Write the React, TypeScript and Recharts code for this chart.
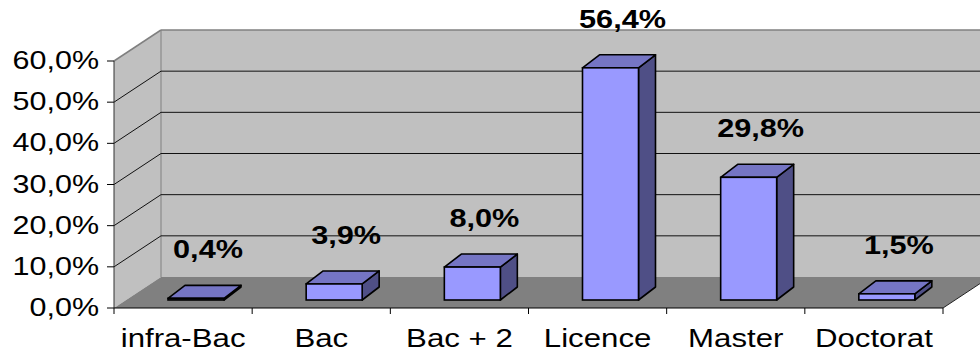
import React from 'react';
import { BarChart, Bar, XAxis, YAxis, CartesianGrid, LabelList } from 'recharts';

const categories = ['infra-Bac', 'Bac', 'Bac + 2', 'Licence', 'Master', 'Doctorat'];
const shares = [0.4, 3.9, 8.0, 56.4, 29.8, 1.5];
const yTicks = [0, 10, 20, 30, 40, 50, 60];

const data = categories.map((name, i) => ({ name, value: shares[i] }));

const W = 980;
const H = 353;
const PL = 114;
const PR = 943;
const PT = 61;
const PB = 308;
const DEPTH_X = 47;
const DEPTH_Y = 31;
const BAR_DX = 17;
const BAR_DY = 13;
const OFF_X = 13;
const OFF_Y = 8;
const BW = (PR - PL) / categories.length;
const FONT = '"Liberation Sans", Arial, sans-serif';

const fmt = (v: number) => v.toFixed(1).replace('.', ',') + '%';

const Bar3D = (props: any) => {
  const { x, y, width, height } = props;
  const fx = Number(x) + OFF_X;
  const fy = Number(y) - OFF_Y;
  const w = Number(width);
  const h = Number(height);
  const sw = 1.6;
  return (
    <g>
      <polygon
        points={`${fx + w},${fy} ${fx + w + BAR_DX},${fy - BAR_DY} ${fx + w + BAR_DX},${fy + h - BAR_DY} ${fx + w},${fy + h}`}
        fill="#4f4f86"
        stroke="#000"
        strokeWidth={sw}
        strokeLinejoin="round"
      />
      <polygon
        points={`${fx},${fy} ${fx + BAR_DX},${fy - BAR_DY} ${fx + w + BAR_DX},${fy - BAR_DY} ${fx + w},${fy}`}
        fill="#7575c4"
        stroke="#000"
        strokeWidth={sw}
        strokeLinejoin="round"
      />
      <rect x={fx} y={fy} width={w} height={h} fill="#9999ff" stroke="#000" strokeWidth={sw} />
    </g>
  );
};

const YTick = (props: any) => {
  const { y, payload } = props;
  const yy = Number(y);
  return (
    <g>
      <line x1={PL - 7} x2={PL} y1={yy} y2={yy} stroke="#000" strokeWidth={1} />
      <text
        transform={`translate(${PL - 15},${yy + 8}) scale(1.22,1)`}
        textAnchor="end"
        fontSize={25}
        fontFamily={FONT}
        fill="#000"
      >
        {fmt(Number(payload.value))}
      </text>
    </g>
  );
};

const XTick = (props: any) => {
  const { x, payload, index } = props;
  const xx = Number(x);
  const last = index === categories.length - 1;
  return (
    <g>
      <line x1={xx - BW / 2} x2={xx - BW / 2} y1={PB} y2={PB + 6} stroke="#000" strokeWidth={1} />
      {last && <line x1={xx + BW / 2} x2={xx + BW / 2} y1={PB} y2={PB + 6} stroke="#000" strokeWidth={1} />}
      <text
        transform={`translate(${xx},${PB + 39}) scale(1.2,1)`}
        textAnchor="middle"
        fontSize={26}
        fontFamily={FONT}
        fill="#000"
      >
        {payload.value}
      </text>
    </g>
  );
};

const GridLine = (props: any) => {
  const { x1, y1 } = props;
  const yy = Number(y1);
  const xx = Number(x1);
  if (Math.abs(yy - PB) < 1 || Math.abs(yy - PT) < 1) return <g key={`g-${yy}`} />;
  return (
    <g key={`g-${yy}`}>
      <line x1={xx} y1={yy} x2={xx + DEPTH_X} y2={yy - DEPTH_Y} stroke="#111" strokeWidth={1} />
      <line x1={xx + DEPTH_X} y1={yy - DEPTH_Y} x2={W} y2={yy - DEPTH_Y} stroke="#111" strokeWidth={1} />
    </g>
  );
};

const ValueLabel = (props: any) => {
  const { x, y, value } = props;
  const cx = Number(x) + OFF_X + 40;
  const by = Number(y) - OFF_Y - 40;
  return (
    <text
      transform={`translate(${cx},${by}) scale(1.18,1)`}
      textAnchor="middle"
      fontSize={26}
      fontWeight="bold"
      fontFamily={FONT}
      fill="#000"
    >
      {fmt(Number(value))}
    </text>
  );
};

const Frame = () => (
  <svg width={W} height={H} style={{ position: 'absolute', left: 0, top: 0 }}>
    <polygon
      points={`${PL},${PT} ${PL + DEPTH_X},${PT - DEPTH_Y} ${PL + DEPTH_X},${PB - DEPTH_Y} ${PL},${PB}`}
      fill="#c0c0c0"
    />
    <rect x={PL + DEPTH_X} y={PT - DEPTH_Y} width={W - PL - DEPTH_X} height={PB - PT} fill="#c0c0c0" />
    <polygon
      points={`${PL},${PB} ${PL + DEPTH_X},${PB - DEPTH_Y} ${PR + DEPTH_X},${PB - DEPTH_Y} ${PR},${PB}`}
      fill="#808080"
    />
    <line x1={PL} y1={PT} x2={PL + DEPTH_X} y2={PT - DEPTH_Y} stroke="#808080" strokeWidth={1.5} />
    <line x1={PL + DEPTH_X} y1={PT - DEPTH_Y} x2={W} y2={PT - DEPTH_Y} stroke="#808080" strokeWidth={1.5} />
    <line x1={PL + DEPTH_X} y1={PT - DEPTH_Y} x2={PL + DEPTH_X} y2={PB - DEPTH_Y} stroke="#808080" strokeWidth={1} />
    <line x1={PR} y1={PB} x2={PR + DEPTH_X} y2={PB - DEPTH_Y} stroke="#222" strokeWidth={1} />
  </svg>
);

export default function App() {
  return (
    <div style={{ position: 'fixed', left: 0, top: 0, width: W, height: H, background: '#fff', fontFamily: FONT }}>
      <Frame />
      <div style={{ position: 'absolute', left: 0, top: 0 }}>
        <BarChart
          width={W}
          height={H}
          data={data}
          margin={{ top: PT, right: W - PR, left: PL - 100, bottom: 0 }}
          barSize={56}
        >
          <CartesianGrid vertical={false} horizontal={GridLine} fill="none" />
          <YAxis
            type="number"
            domain={[0, 60]}
            ticks={yTicks}
            width={100}
            interval={0}
            tickLine={false}
            axisLine={{ stroke: '#333', strokeWidth: 1 }}
            tick={YTick}
          />
          <XAxis
            dataKey="name"
            height={H - PB}
            interval={0}
            tickLine={false}
            axisLine={{ stroke: '#000', strokeWidth: 1 }}
            tick={XTick}
          />
          <Bar dataKey="value" shape={Bar3D} isAnimationActive={false}>
            <LabelList dataKey="value" content={ValueLabel} />
          </Bar>
        </BarChart>
      </div>
    </div>
  );
}
